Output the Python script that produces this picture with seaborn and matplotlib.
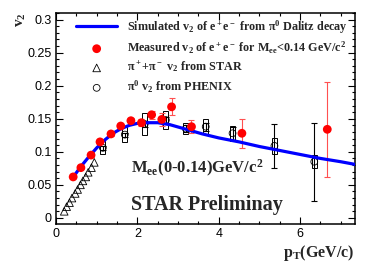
import numpy as np
import pandas as pd
import matplotlib
matplotlib.use("Agg")
import matplotlib.pyplot as plt
from matplotlib.ticker import MultipleLocator, FixedLocator, FixedFormatter
import seaborn as sns

# --- data ---
# simulated v2 curve (pi0 Dalitz decay)
sim_pt = [0.4, 0.6, 0.8, 1.0, 1.2, 1.4, 1.6, 1.8, 2.0, 2.2, 2.5, 2.8, 3.2, 3.6,
          4.0, 4.5, 5.0, 5.5, 6.0, 6.5, 7.0, 7.35]
sim_v2 = [0.060, 0.077, 0.092, 0.106, 0.118, 0.128, 0.135, 0.140, 0.143, 0.144,
          0.144, 0.141, 0.134, 0.127, 0.121, 0.115, 0.108, 0.102, 0.096, 0.090,
          0.085, 0.081]

# measured v2 of e+e- for Mee < 0.14
meas_pt = [0.42, 0.61, 0.86, 1.08, 1.35, 1.59, 1.84, 2.10, 2.35, 2.60, 2.84, 3.33, 4.57, 6.67]
meas_v2 = [0.062, 0.076, 0.095, 0.115, 0.127, 0.139, 0.147, 0.144, 0.156, 0.149,
           0.168, 0.138, 0.128, 0.134]
meas_err = [0.002, 0.002, 0.003, 0.003, 0.003, 0.003, 0.004, 0.005, 0.006, 0.010,
            0.013, 0.010, 0.022, 0.072]

# STAR pi+ + pi- v2
star_pt = [0.20, 0.26, 0.33, 0.39, 0.47, 0.53, 0.60, 0.66, 0.73, 0.79, 0.87, 0.94]
star_v2 = [0.010, 0.017, 0.023, 0.030, 0.037, 0.043, 0.050, 0.056, 0.062, 0.069,
           0.076, 0.084]

# PHENIX pi0 v2
phx_pt = [1.15, 1.69, 2.18, 2.70, 3.19, 3.68, 4.34, 5.37, 6.35]
phx_v2 = [0.106, 0.126, 0.142, 0.148, 0.135, 0.138, 0.128, 0.109, 0.085]
phx_stat = [0.003, 0.003, 0.004, 0.005, 0.005, 0.006, 0.010, 0.033, 0.059]
phx_sys = [0.010, 0.011, 0.016, 0.013, 0.008, 0.011, 0.011, 0.012, 0.010]

xtick_vals = [0, 2, 4, 6]
xtick_labels = ["0", "2", "4", "6"]
ytick_vals = [0, 0.05, 0.1, 0.15, 0.2, 0.25, 0.3]
ytick_labels = ["0", "0.05", "0.1", "0.15", "0.2", "0.25", "0.3"]

sim = pd.DataFrame({"pt": sim_pt, "v2": sim_v2})
meas = pd.DataFrame({"pt": meas_pt, "v2": meas_v2, "err": meas_err})
star = pd.DataFrame({"pt": star_pt, "v2": star_v2})
phx = pd.DataFrame({"pt": phx_pt, "v2": phx_v2, "stat": phx_stat, "sys": phx_sys})

sns.set_style("ticks")
plt.rcParams["font.family"] = ["Liberation Sans", "DejaVu Sans"]
plt.rcParams["mathtext.fontset"] = "custom"
plt.rcParams["mathtext.rm"] = "Liberation Serif:bold"
plt.rcParams["mathtext.it"] = "Liberation Serif:bold"
plt.rcParams["mathtext.bf"] = "Liberation Serif:bold"

fig = plt.figure(figsize=(3.74, 2.64), dpi=100)
ax = fig.add_axes([0.150, 0.152, 0.799, 0.799])
serif = ["Liberation Serif", "DejaVu Serif"]

# PHENIX: systematic boxes + stat bars
ax.bar(phx["pt"], 2 * phx["sys"], bottom=phx["v2"] - phx["sys"], width=0.12,
       fill=False, edgecolor="black", linewidth=0.7, zorder=3)
ax.errorbar(phx["pt"], phx["v2"], yerr=phx["stat"], fmt="none", ecolor="black",
            elinewidth=0.8, capsize=2.5, capthick=0.8, zorder=3)

# measured error bars
ax.errorbar(meas["pt"], meas["v2"], yerr=meas["err"], fmt="none", ecolor="#ff5050",
            elinewidth=0.8, capsize=2.5, capthick=0.8, zorder=4)

sns.lineplot(data=sim, x="pt", y="v2", ax=ax, color="#0000ff", linewidth=2.3,
             label="Simulated v$_2$ of e$^+$e$^-$ from \u03c0$^0$ Dalitz decay", zorder=5)
sns.scatterplot(data=meas, x="pt", y="v2", ax=ax, color="#ff0000", s=40,
                edgecolor="none", zorder=6,
                label="Measured v$_2$ of e$^+$e$^-$ for M$_{ee}$<0.14 GeV/c$^2$")
sns.scatterplot(data=star, x="pt", y="v2", ax=ax, marker="^", s=30,
                facecolor="none", edgecolor="black", linewidth=0.6, zorder=4,
                label="\u03c0$^+$+\u03c0$^-$ v$_2$ from STAR")
sns.scatterplot(data=phx, x="pt", y="v2", ax=ax, marker="o", s=24,
                facecolor="none", edgecolor="black", linewidth=0.6, zorder=4,
                label="\u03c0$^0$ v$_2$ from PHENIX")

ax.set_xlim(0, 7.35)
ax.set_ylim(-0.009, 0.31)
ax.xaxis.set_major_locator(FixedLocator(xtick_vals))
ax.xaxis.set_major_formatter(FixedFormatter(xtick_labels))
ax.yaxis.set_major_locator(FixedLocator(ytick_vals))
ax.yaxis.set_major_formatter(FixedFormatter(ytick_labels))
ax.xaxis.set_minor_locator(MultipleLocator(0.5))
ax.yaxis.set_minor_locator(MultipleLocator(0.01))
ax.tick_params(which="both", direction="in", top=True, right=True, labelsize=9,
               width=0.8, colors="black")
ax.tick_params(which="major", length=5, pad=3)
ax.tick_params(which="minor", length=2.5)
for s in ax.spines.values():
    s.set_linewidth(1.1)
    s.set_color("black")
ax.set_xlabel("")
ax.set_ylabel("")

leg = ax.legend(loc="upper left", bbox_to_anchor=(0.067, 0.975), frameon=False,
                borderaxespad=0, borderpad=0, handlelength=3.4, handletextpad=0.8,
                labelspacing=0.32, prop={"family": serif, "weight": "bold", "size": 8.7})

ax.text(0.25, 0.265, "M$_{ee}$(0-0.14)GeV/c$^2$", transform=ax.transAxes,
        fontsize=12, fontfamily=serif, fontweight="bold", va="center")
ax.text(0.25, 0.04, "STAR Preliminay", transform=ax.transAxes,
        fontsize=14.5, fontfamily=serif, fontweight="bold", va="bottom")

fig.text(0.058, 0.955, "v$_2$", rotation=90, ha="center", va="top",
         fontsize=11, fontfamily=serif, fontweight="bold")
fig.text(0.947, 0.005, "p$_T$(GeV/c)", ha="right", va="bottom",
         fontsize=11.5, fontfamily=serif, fontweight="bold")

fig.savefig("out.png", dpi=100)
